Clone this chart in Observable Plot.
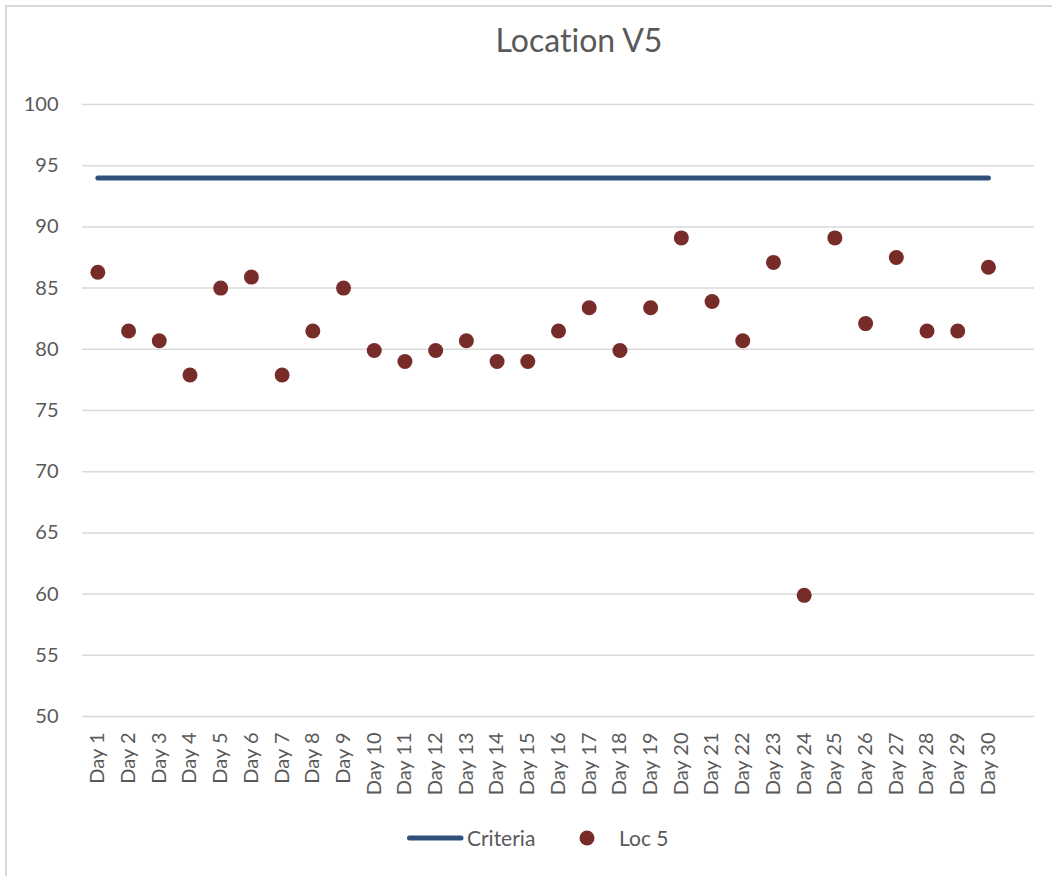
<!DOCTYPE html>
<html>
<head>
<meta charset="utf-8">
<script src="https://cdn.jsdelivr.net/npm/d3@7"></script>
<script src="https://cdn.jsdelivr.net/npm/@observablehq/plot@0.6"></script>
<style>
  html, body { margin: 0; padding: 0; background: #fff; overflow: hidden; }
  #wrap { position: relative; width: 1052px; height: 876px; overflow: hidden; font-family: Lato, "Open Sans", sans-serif; color: #595959; font-variant-ligatures: none; }
  #frame { position: absolute; left: 5px; top: 5px; width: 1100px; height: 950px; border: 2px solid #d9d9d9; box-sizing: border-box; }
  #title { position: absolute; left: 379px; width: 400px; top: 24px; text-align: center; font-size: 32px; line-height: 32px; }
  #chart { position: absolute; left: 0; top: 0; }
  #chart svg { font-variant-ligatures: none; }
  #legend { position: absolute; top: 826px; left: 0; height: 24px; width: 1052px; font-size: 21px; line-height: 24px; }
  .item { position: absolute; top: 0; height: 24px; display: flex; align-items: center; }
</style>
</head>
<body>
<div id="wrap">
  <div id="frame"></div>
  <div id="chart"></div>
  <div id="title">Location V5</div>
  <div id="legend">
    <div class="item" style="left:405px"><svg width="60" height="24"><line x1="4.5" x2="56" y1="12" y2="12" stroke="#30507a" stroke-width="5" stroke-linecap="round"/></svg><span style="margin-left:2px">Criteria</span></div>
    <div class="item" style="left:578px"><svg width="20" height="24"><circle cx="9" cy="12" r="7.5" fill="#772c2a"/></svg><span style="margin-left:21px">Loc 5</span></div>
  </div>
</div>
<script>
const days = ["Day 1","Day 2","Day 3","Day 4","Day 5","Day 6","Day 7","Day 8","Day 9","Day 10",
  "Day 11","Day 12","Day 13","Day 14","Day 15","Day 16","Day 17","Day 18","Day 19","Day 20",
  "Day 21","Day 22","Day 23","Day 24","Day 25","Day 26","Day 27","Day 28","Day 29","Day 30"];
const loc5 = [86.3, 81.5, 80.7, 77.9, 85.0, 85.9, 77.9, 81.5, 85.0, 79.9,
  79.0, 79.9, 80.7, 79.0, 79.0, 81.5, 83.4, 79.9, 83.4, 89.1,
  83.9, 80.7, 87.1, 59.9, 89.1, 82.1, 87.5, 81.5, 81.5, 86.7];
const criteria = days.map(() => 94);
const yTicks = [50, 55, 60, 65, 70, 75, 80, 85, 90, 95, 100];

const rows = days.map((d, i) => ({day: d, loc: loc5[i], crit: criteria[i]}));

const chart = Plot.plot({
  width: 1052,
  height: 800,
  marginLeft: 82,
  marginRight: 18,
  marginTop: 104,
  marginBottom: 84,
  style: {fontFamily: "Lato, 'Open Sans', sans-serif", fontSize: "20px", color: "#595959", background: "transparent"},
  x: {type: "band", domain: [...days, ""], padding: 0, align: 0.5, round: false},
  y: {domain: [50, 100]},
  marks: [
    Plot.gridY(yTicks, {stroke: "#d9d9d9", strokeWidth: 1.5, strokeOpacity: 1}),
    Plot.axisY({ticks: yTicks, tickSize: 0, tickPadding: 24, fill: "#595959", fontSize: 20, label: null}),
    Plot.axisX({ticks: days, tickSize: 0, tickPadding: 16, tickRotate: -90, fill: "#595959", fontSize: 20, label: null}),
    Plot.lineY(rows, {x: "day", y: "crit", stroke: "#30507a", strokeWidth: 5, strokeLinecap: "round"}),
    Plot.dot(rows, {x: "day", y: "loc", r: 7.5, fill: "#772c2a", stroke: "none"})
  ]
});
document.getElementById("chart").appendChild(chart);
</script>
</body>
</html>
